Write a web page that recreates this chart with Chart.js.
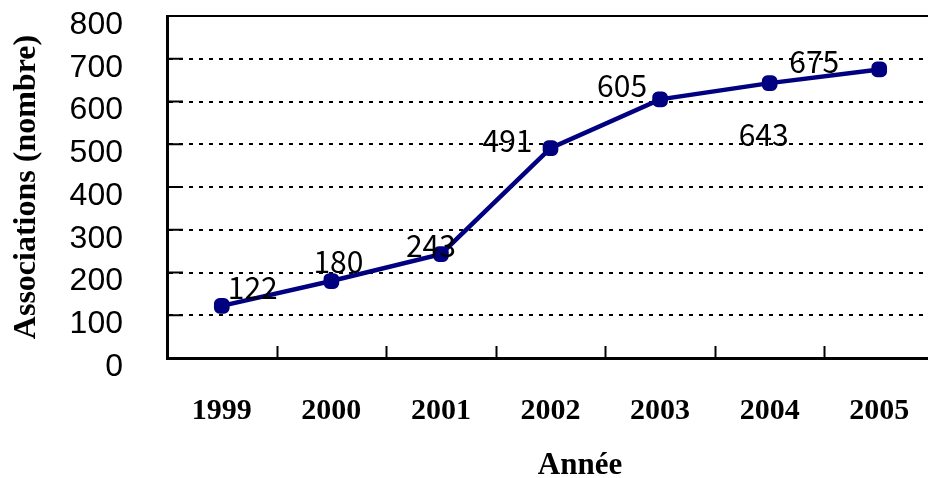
<!DOCTYPE html>
<html>
<head>
<meta charset="utf-8">
<script src="https://cdn.jsdelivr.net/npm/chart.js@4/dist/chart.umd.min.js"></script>
<style>
  html, body { margin: 0; padding: 0; background: #fff; overflow: hidden; }
  #wrap { width: 945px; height: 478px; }
</style>
</head>
<body>
<div id="wrap"><canvas id="chart" width="945" height="478"></canvas></div>
<script>
const years = ['1999', '2000', '2001', '2002', '2003', '2004', '2005'];
const associations = [122, 180, 243, 491, 605, 643, 675];
const yMin = 0, yMax = 800, yStep = 100;
// where each value label sits relative to its point (px)
const labelShift = [[31, -18], [7, -19], [-10, -9], [-43, -8], [-38, -14], [-6, 51], [-65, -8]];

const decor = {
  id: 'decor',
  afterDraw(chart) {
    const ctx = chart.ctx;
    const area = chart.chartArea;
    const xs = chart.scales.x, ys = chart.scales.y;
    ctx.save();
    ctx.strokeStyle = '#000';
    // top frame line
    ctx.lineWidth = 2;
    ctx.beginPath();
    ctx.moveTo(area.left, area.top);
    ctx.lineTo(area.right, area.top);
    ctx.stroke();
    // inner tick marks on the x axis, between categories
    for (let i = 1; i < years.length; i++) {
      const px = Math.round(xs.getPixelForValue(i - 0.5)) + 0.5;
      ctx.beginPath();
      ctx.moveTo(px, area.bottom);
      ctx.lineTo(px, area.bottom - 12);
      ctx.stroke();
    }
    // inner tick marks on the y axis
    for (let v = yMin + yStep; v <= yMax; v += yStep) {
      const py = ys.getPixelForValue(v);
      ctx.beginPath();
      ctx.moveTo(area.left, py);
      ctx.lineTo(area.left + 16, py);
      ctx.stroke();
    }
    // value labels
    const meta = chart.getDatasetMeta(0);
    ctx.fillStyle = '#000';
    ctx.font = '30px "Noto Sans CJK JP"';
    ctx.textAlign = 'center';
    ctx.textBaseline = 'middle';
    meta.data.forEach((pt, i) => {
      ctx.fillText(String(associations[i]), pt.x + labelShift[i][0], pt.y + labelShift[i][1]);
    });
    // x axis title
    ctx.font = 'bold 31px "Liberation Serif"';
    ctx.fillText('Année', 580, 466);
    ctx.restore();
  }
};

new Chart(document.getElementById('chart').getContext('2d'), {
  type: 'line',
  data: {
    labels: years,
    datasets: [{
      data: associations,
      borderColor: '#000080',
      backgroundColor: '#000080',
      borderWidth: 4.5,
      tension: 0,
      pointStyle: 'rectRounded',
      pointRadius: 6.5,
      pointBackgroundColor: '#000080',
      pointBorderColor: '#000080'
    }]
  },
  options: {
    responsive: false,
    animation: false,
    layout: { padding: { top: 16, right: 0, left: 0, bottom: 0 } },
    plugins: { legend: { display: false }, tooltip: { enabled: false } },
    scales: {
      x: {
        offset: true,
        afterFit: s => { s.height = 120; },
        grid: { display: false },
        border: { display: true, color: '#000', width: 3 },
        ticks: {
          color: '#000',
          padding: 27,
          font: { family: '"Liberation Serif"', size: 30, weight: 'bold' }
        }
      },
      y: {
        min: yMin,
        max: yMax,
        afterFit: s => { s.width = 167; },
        grid: { color: '#000', lineWidth: 2, drawTicks: true, tickLength: 44, tickColor: 'rgba(0,0,0,0)' },
        border: { display: true, color: '#000', width: 3, dash: [4, 6] },
        ticks: {
          stepSize: yStep,
          autoSkip: false,
          color: '#000',
          padding: 0,
          labelOffset: 9,
          font: { family: '"Liberation Sans"', size: 32, lineHeight: 1 }
        },
        title: {
          display: true,
          text: 'Associations (nombre)',
          color: '#000',
          padding: { top: 8, bottom: 0 },
          font: { family: '"Liberation Serif"', size: 32, weight: 'bold' }
        }
      }
    }
  },
  plugins: [decor]
});
</script>
</body>
</html>
